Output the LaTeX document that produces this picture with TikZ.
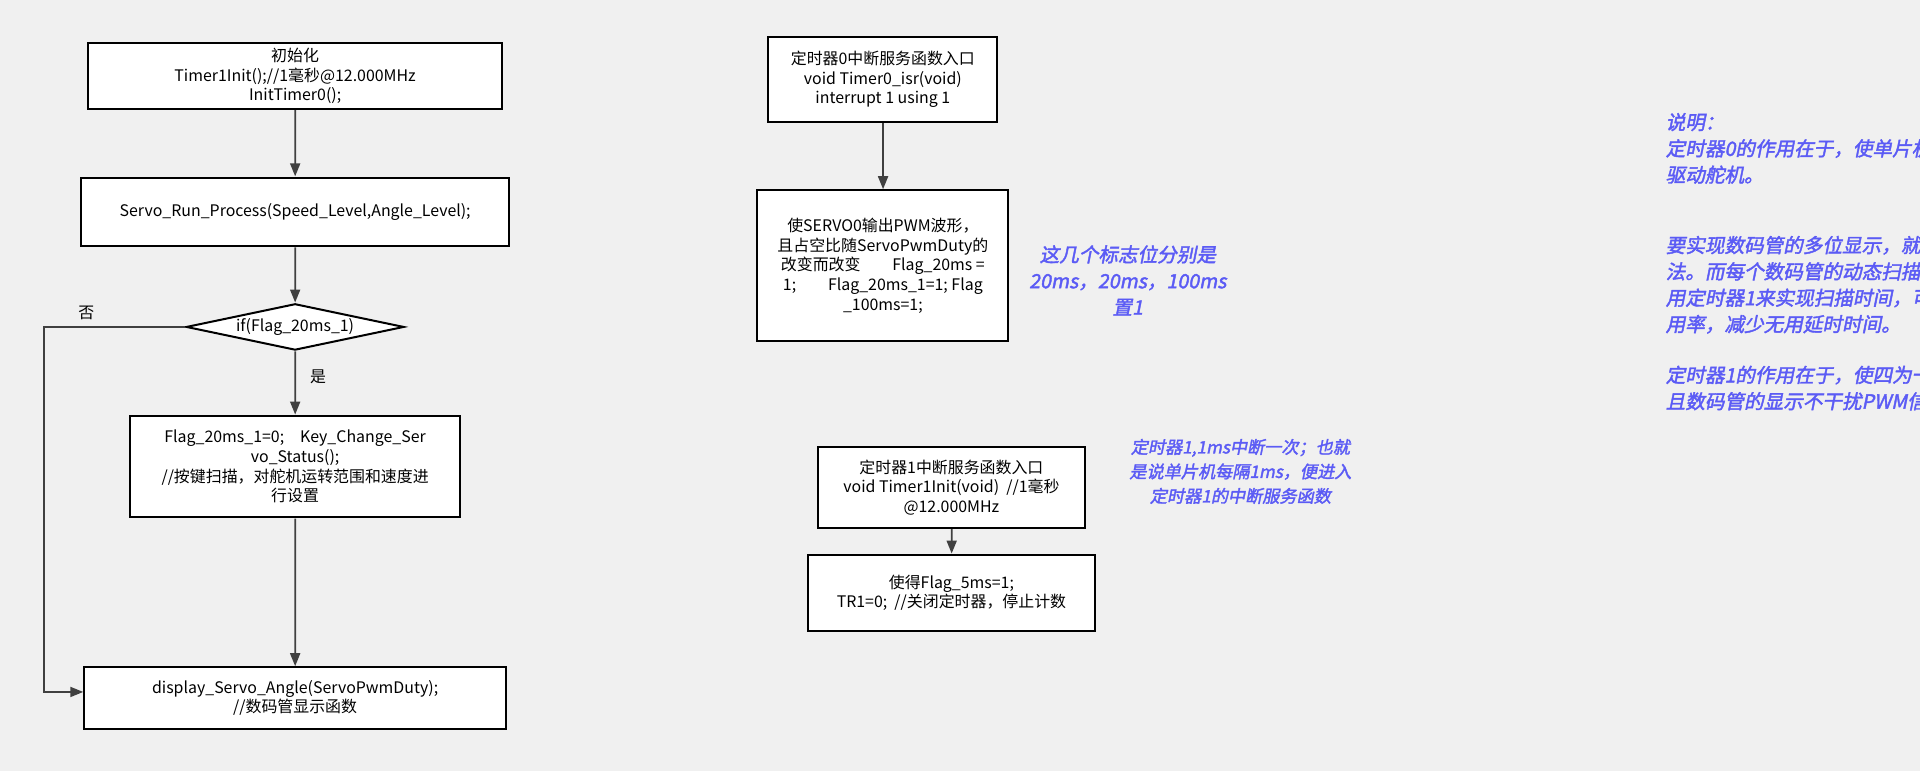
\documentclass[tikz,border=0pt]{standalone}
\usepackage{fontspec}
\setmainfont{Noto Sans CJK SC}
\newfontfamily\notefont[FakeSlant=0.2,FakeBold=2]{Noto Sans CJK SC}
\usetikzlibrary{shapes.geometric,arrows.meta}
\definecolor{notecolor}{HTML}{5B5BF5}
\definecolor{paper}{HTML}{F0F0F0}
\tikzset{
	% ---- default
	every path/.style={line width=2pt},
	every node/.style={font=\fontsize{13}{16}\selectfont, transform shape},
	% ---- custom
	box/.style={draw, fill=white, align=center, inner sep=2pt},
	decision/.style={draw, fill=white, diamond, aspect=4.7, inner sep=1pt},
	flow/.style={-{Triangle[length=13pt,width=10pt]}, line width=1.8pt, draw=black!75},
	note/.style={text=notecolor, font=\notefont\fontsize{16}{21.5}\selectfont},
}
\begin{document}
\begin{tikzpicture}[x=1pt,y=-1pt,scale=1.2245]

% background %{{{2

	\fill[paper] (0,0) rectangle (1568,629.6);
	\useasboundingbox (0,0) rectangle (1568,629.6);

% main loop %{{{2

	\node[box, minimum width=338, minimum height=54] (init) at (241,62)
	{初始化\\ Timer1Init();//1毫秒@12.000MHz\\InitTimer0();};
	\node[box, minimum width=350, minimum height=56] (run) at (241,173)
	{Servo\_Run\_Process(Speed\_Level,Angle\_Level);};
	\node[decision, minimum width=178, minimum height=38] (check) at (241,267)
	{if(Flag\_20ms\_1)};
	\node[box, minimum width=269, minimum height=83] (key) at (241,381)
	{Flag\_20ms\_1=0;\quad Key\_Change\_Ser\\vo\_Status();\\//按键扫描，对舵机运转范围和速度进\\行设置};
	\node[box, minimum width=344, minimum height=50] (show) at (241,570)
	{display\_Servo\_Angle(ServoPwmDuty);\\//数码管显示函数};
	\coordinate (corner) at (36,267);

	\draw[flow] (init) -- (run);
	\draw[flow] (run) -- (check);
	\draw[flow] (check) -- node[right=8pt, pos=0.4] {是} (key);
	\draw[flow] (key) -- (show);
	\draw[flow] (check.west) -- node[above=2pt, pos=0.7] {否} (corner) |- ([yshift=5pt]show.west);

% timer 0 %{{{2

	\node[box, minimum width=187, minimum height=69] (isr0) at (721,65)
	{定时器0中断服务函数入口\\void Timer0\_isr(void)\\interrupt 1 using 1};
	\node[box, minimum width=205, minimum height=123] (pwm) at (721,217)
	{使SERVO0输出PWM波形，\\且占空比随ServoPwmDuty的\\改变而改变\qquad Flag\_20ms =\\1;\qquad Flag\_20ms\_1=1;\ Flag\\\_100ms=1;};
	\draw[flow] (isr0) -- (pwm);
	\node[note, align=center] (flagnote) at (921,229)
	{这几个标志位分别是\\20ms，20ms，100ms\\置1};

% timer 1 %{{{2

	\node[box, minimum width=218, minimum height=66] (isr1) at (777,398)
	{定时器1中断服务函数入口\\void Timer1Init(void)\ \ //1毫秒\\@12.000MHz};
	\node[box, minimum width=235, minimum height=62] (stop) at (777,484)
	{使得Flag\_5ms=1;\\TR1=0;\ \ //关闭定时器，停止计数};
	\draw[flow] (isr1) -- (stop);
	\node[note, align=center, font=\notefont\fontsize{14}{20}\selectfont] (tickenote) at (1013,385)
	{定时器1,1ms中断一次；也就\\是说单片机每隔1ms，便进入\\定时器1的中断服务函数};

% explanation %{{{2

	\node[note, anchor=north west, align=left] (explain) at (1356,88)
	{说明：\\定时器0的作用在于，使单片机IO口产生PWM波形，以\\驱动舵机。\\[36pt]
	要实现数码管的多位显示，就必须要用动态扫描的方\\法。而每个数码管的动态扫描的间隔利用为2到5ms。利\\用定时器1来实现扫描时间，可以极大的提高MCU的利\\用率，减少无用延时时间。\\[20pt]
	定时器1的作用在于，使四为一体数码管能正常显示。而\\且数码管的显示不干扰PWM信号的产生。};

% closing %{{{2

\end{tikzpicture}
\end{document}
